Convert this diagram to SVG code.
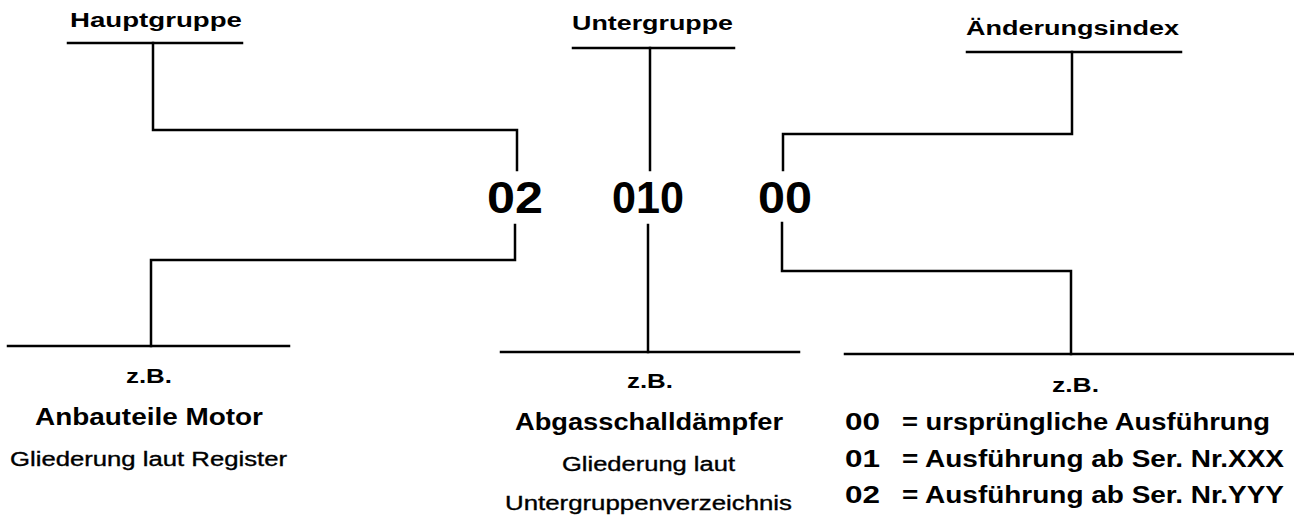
<svg xmlns="http://www.w3.org/2000/svg" width="1294" height="529" viewBox="0 0 1294 529">
<style>
.bg{fill:#fff}
.ln{fill:none;stroke:#000;stroke-width:2.5;stroke-linecap:square;stroke-linejoin:miter}
.t{font-family:"Liberation Sans",Arial,sans-serif;fill:#000}
.h{font-size:20px;font-weight:bold}
.n{font-size:44px;font-weight:bold}
.zb{font-size:21px;font-weight:bold}
.m{font-size:23px;font-weight:bold}
.s{font-size:20px;stroke:#000;stroke-width:0.35}
</style>
<rect class="bg" x="0" y="0" width="1294" height="529"/>
<g id="connectors">
<path class="ln" d="M68 43 H242"/>
<path class="ln" d="M153 43 V130 H517 V170"/>
<path class="ln" d="M573 48 H734"/>
<path class="ln" d="M650 48 V170"/>
<path class="ln" d="M967 52 H1181"/>
<path class="ln" d="M1072 52 V134 H783 V170"/>
<path class="ln" d="M515 225 V260 H151 V346"/>
<path class="ln" d="M8 346 H289"/>
<path class="ln" d="M648 225 V352"/>
<path class="ln" d="M501 352 H799"/>
<path class="ln" d="M782 223 V271 H1071 V354"/>
<path class="ln" d="M845 354 H1294"/>
</g>
<g id="hauptgruppe">
<text class="t h" x="70" y="27" textLength="172" lengthAdjust="spacingAndGlyphs">Hauptgruppe</text>
</g>
<g id="untergruppe">
<text class="t h" x="572" y="30" textLength="161" lengthAdjust="spacingAndGlyphs">Untergruppe</text>
</g>
<g id="aenderungsindex">
<text class="t h" x="966" y="35" textLength="213" lengthAdjust="spacingAndGlyphs">Änderungsindex</text>
</g>
<g id="code">
<text class="t n" x="487" y="213" textLength="56" lengthAdjust="spacingAndGlyphs">02</text>
<text class="t n" x="612" y="213" textLength="72" lengthAdjust="spacingAndGlyphs">010</text>
<text class="t n" x="758" y="213" textLength="54" lengthAdjust="spacingAndGlyphs">00</text>
</g>
<g id="beispiel-hauptgruppe">
<text class="t zb" x="126" y="383" textLength="46" lengthAdjust="spacingAndGlyphs">z.B.</text>
<text class="t m" x="35" y="425" textLength="228" lengthAdjust="spacingAndGlyphs">Anbauteile Motor</text>
<text class="t s" x="10" y="466" textLength="277" lengthAdjust="spacingAndGlyphs">Gliederung laut Register</text>
</g>
<g id="beispiel-untergruppe">
<text class="t zb" x="627" y="388" textLength="46" lengthAdjust="spacingAndGlyphs">z.B.</text>
<text class="t m" x="515" y="430" textLength="268" lengthAdjust="spacingAndGlyphs">Abgasschalldämpfer</text>
<text class="t s" x="562" y="471" textLength="173" lengthAdjust="spacingAndGlyphs">Gliederung laut</text>
<text class="t s" x="505" y="510" textLength="287" lengthAdjust="spacingAndGlyphs">Untergruppenverzeichnis</text>
</g>
<g id="beispiel-aenderungsindex">
<text class="t zb" x="1052" y="392" textLength="47" lengthAdjust="spacingAndGlyphs">z.B.</text>
<text class="t m" x="845" y="430" textLength="35" lengthAdjust="spacingAndGlyphs">00</text>
<text class="t m" x="902" y="430" textLength="368" lengthAdjust="spacingAndGlyphs">= ursprüngliche Ausführung</text>
<text class="t m" x="845" y="467" textLength="35" lengthAdjust="spacingAndGlyphs">01</text>
<text class="t m" x="902" y="467" textLength="382" lengthAdjust="spacingAndGlyphs">= Ausführung ab Ser. Nr.XXX</text>
<text class="t m" x="845" y="503" textLength="35" lengthAdjust="spacingAndGlyphs">02</text>
<text class="t m" x="902" y="503" textLength="382" lengthAdjust="spacingAndGlyphs">= Ausführung ab Ser. Nr.YYY</text>
</g>
</svg>
